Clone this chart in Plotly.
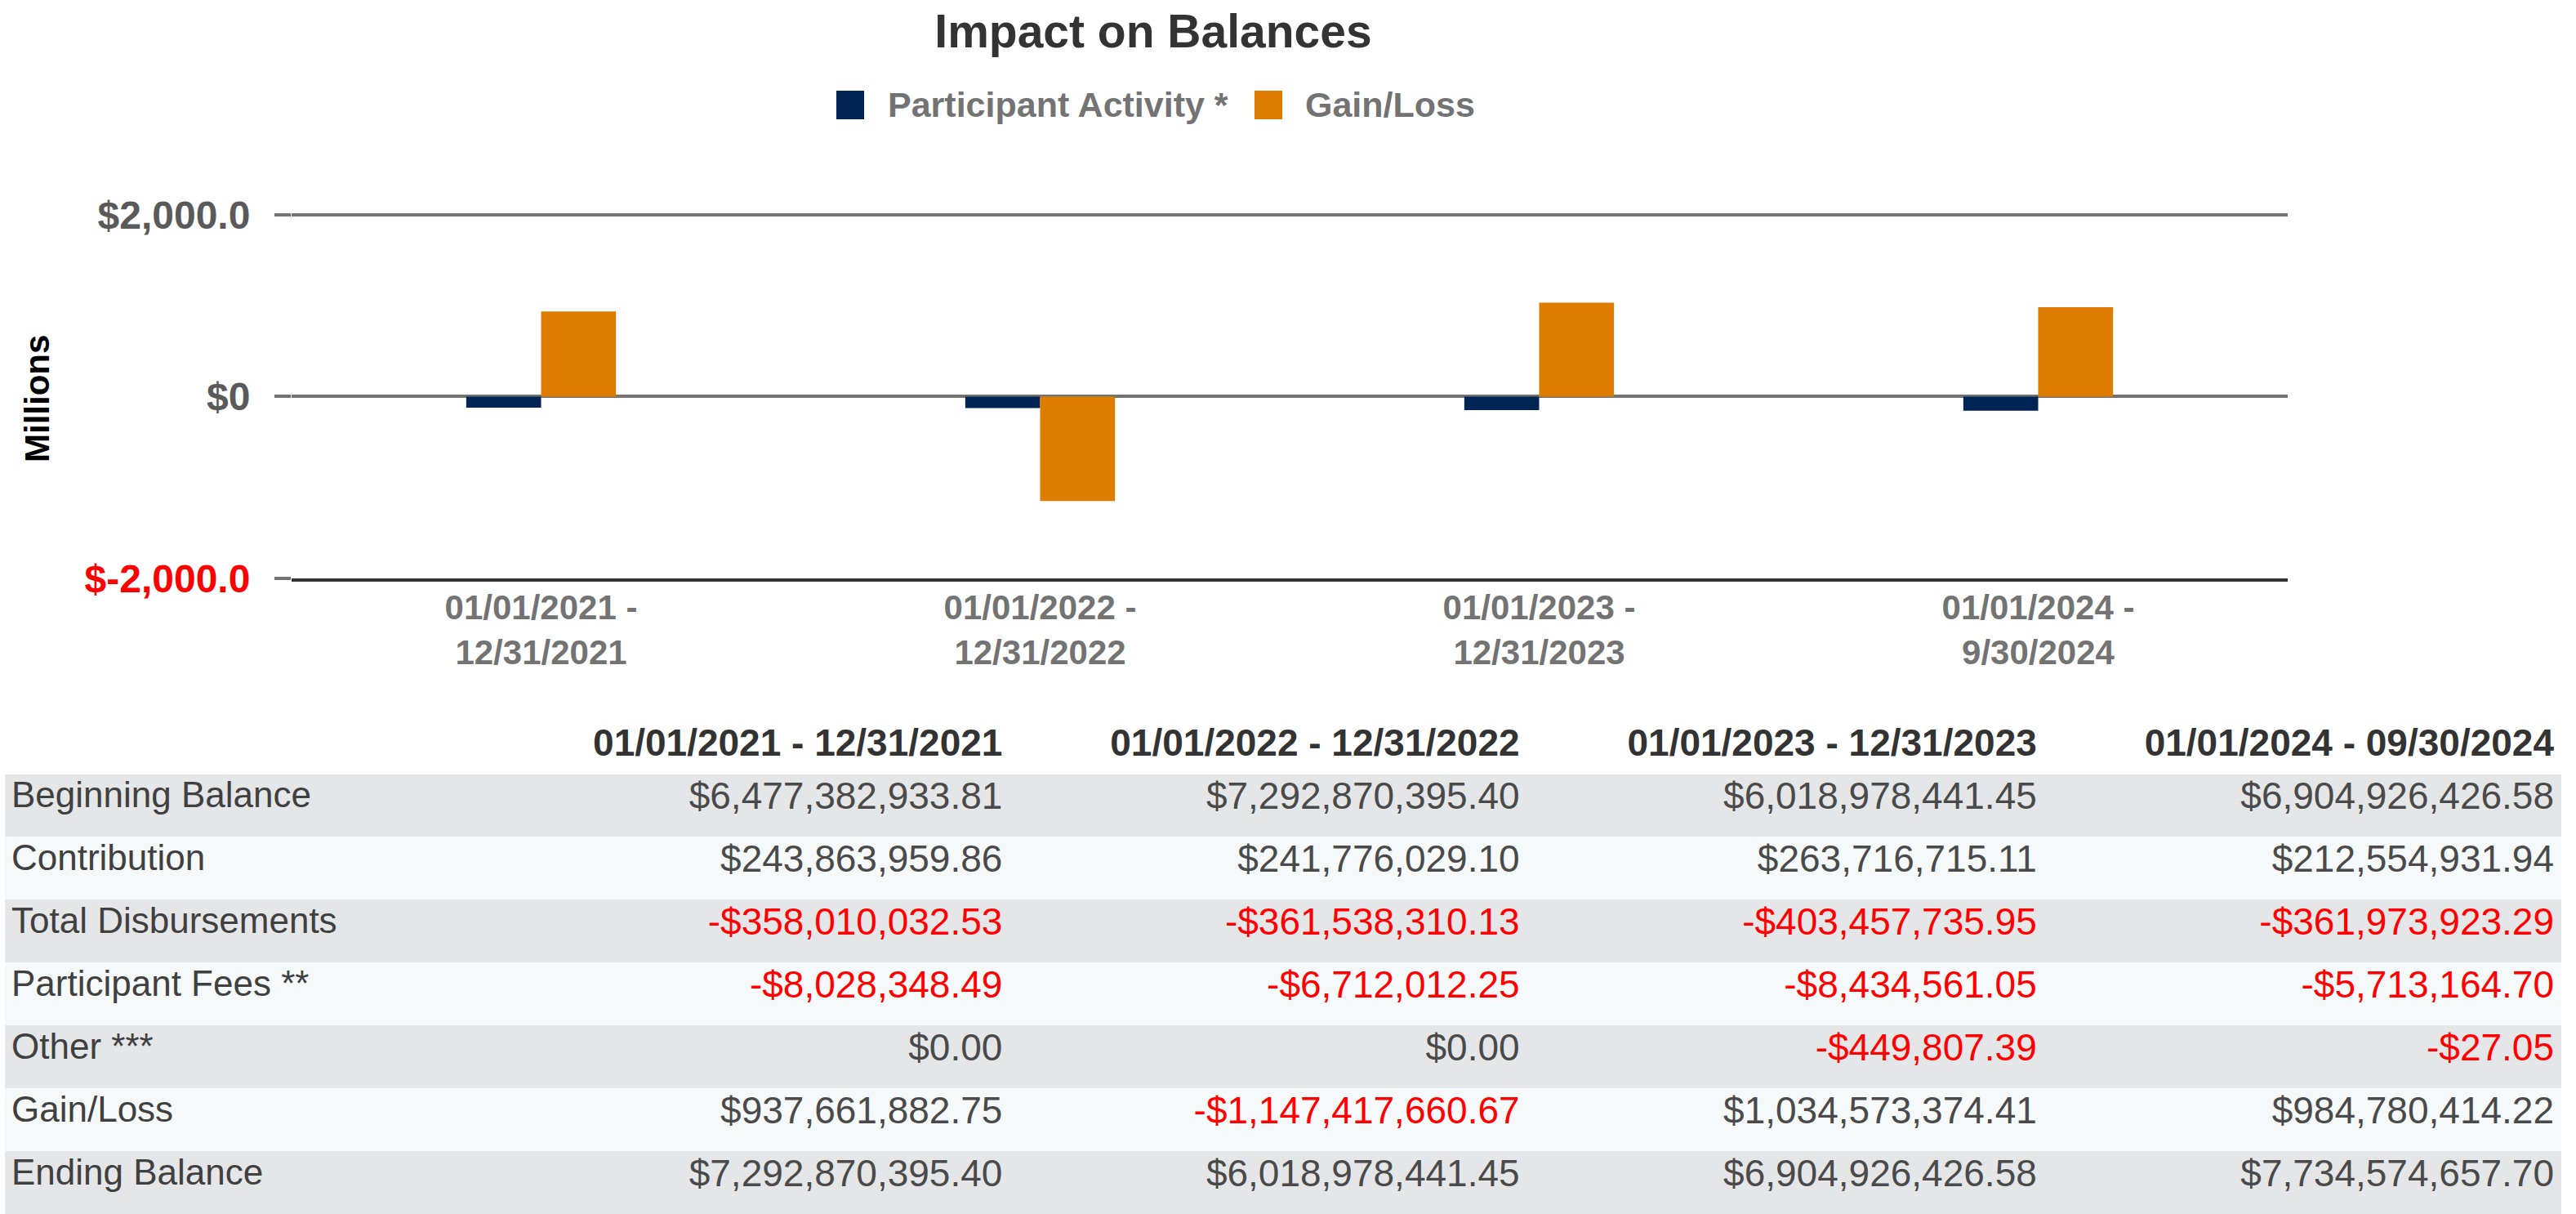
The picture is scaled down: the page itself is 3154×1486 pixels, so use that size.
import plotly.graph_objects as go

# ---------------- data ----------------
chart_periods = ["01/01/2021 -<br>12/31/2021", "01/01/2022 -<br>12/31/2022",
                 "01/01/2023 -<br>12/31/2023", "01/01/2024 -<br>9/30/2024"]
series_names = ["Participant Activity *", "Gain/Loss"]
participant_activity = [-122.17, -126.47, -148.63, -155.13]   # millions
gain_loss = [937.66, -1147.42, 1034.57, 984.78]                 # millions
y_tickvals = [-2000, 0, 2000]
y_ticktext = ["<span style='color:#ff0000'>$-2,000.0</span>", "$0", "$2,000.0"]

table_periods = ["01/01/2021 - 12/31/2021", "01/01/2022 - 12/31/2022",
                 "01/01/2023 - 12/31/2023", "01/01/2024 - 09/30/2024"]
row_labels = ["Beginning Balance", "Contribution", "Total Disbursements",
              "Participant Fees **", "Other ***", "Gain/Loss", "Ending Balance"]
col_2021 = ["$6,477,382,933.81", "$243,863,959.86", "-$358,010,032.53", "-$8,028,348.49",
            "$0.00", "$937,661,882.75", "$7,292,870,395.40"]
col_2022 = ["$7,292,870,395.40", "$241,776,029.10", "-$361,538,310.13", "-$6,712,012.25",
            "$0.00", "-$1,147,417,660.67", "$6,018,978,441.45"]
col_2023 = ["$6,018,978,441.45", "$263,716,715.11", "-$403,457,735.95", "-$8,434,561.05",
            "-$449,807.39", "$1,034,573,374.41", "$6,904,926,426.58"]
col_2024 = ["$6,904,926,426.58", "$212,554,931.94", "-$361,973,923.29", "-$5,713,164.70",
            "-$27.05", "$984,780,414.22", "$7,734,574,657.70"]

# ---------------- style ----------------
W, H = 3154, 1486
FONT = "Liberation Sans, Arial, sans-serif"
NAVY = "#002554"
ORANGE = "#DE7C00"
GREY = "#737373"

def px(x):
    return x / W

def py(y):
    return 1 - y / H

fig = go.Figure()
xs = list(range(len(chart_periods)))
fig.add_trace(go.Bar(x=xs, y=participant_activity, name=series_names[0],
                     marker=dict(color=NAVY, line=dict(width=0)), showlegend=False))
fig.add_trace(go.Bar(x=xs, y=gain_loss, name=series_names[1],
                     marker=dict(color=ORANGE, line=dict(width=0)), showlegend=False))

# table
value_cols = [col_2021, col_2022, col_2023, col_2024]
n = len(row_labels)
row_fill = ["#e5e6e8" if i % 2 == 0 else "#f6f9fa" for i in range(n)]
label_colors = ["#404040"] * n
value_colors = [["#ff0000" if v.startswith("-") else "#4a4a4a" for v in col] for col in value_cols]
fig.add_trace(go.Table(
    domain=dict(x=[px(6), px(3135)], y=[0, py(882)]),
    columnwidth=[596, 633, 633, 633, 633],
    header=dict(values=[""] + table_periods,
                align=["left"] + ["right"] * 4,
                fill_color="white",
                line=dict(color="white", width=1),
                font=dict(family=FONT, size=46, color="#333333", weight="bold"),
                height=65),
    cells=dict(values=[row_labels] + value_cols,
               align=["left"] + ["right"] * 4,
               fill_color=[row_fill] * 5,
               line=dict(color=[row_fill] * 5, width=1),
               font=dict(family=FONT, size=[44, 46, 46, 46, 46],
                         color=[label_colors] + value_colors),
               height=77),
))

# manual legend
legend_items = [(series_names[0], NAVY, 1024, 1085), (series_names[1], ORANGE, 1536, 1596)]
for name, col, sx, tx in legend_items:
    fig.add_shape(type="rect", xref="paper", yref="paper",
                  x0=px(sx), x1=px(sx + 34), y0=py(146), y1=py(111),
                  fillcolor=col, line=dict(width=0))
    fig.add_annotation(xref="paper", yref="paper", x=px(tx), y=py(128),
                       xanchor="left", yanchor="middle", showarrow=False, text=name,
                       font=dict(family=FONT, size=43, color=GREY, weight="bold"))

# y axis title
fig.add_annotation(xref="paper", yref="paper", x=px(46), y=py(488), textangle=-90,
                   xanchor="center", yanchor="middle", showarrow=False, text="Millions",
                   font=dict(family=FONT, size=42, color="#000000", weight="bold"))

# small headroom above the top gridline so Plotly keeps drawing it
Y_TOP = 2020
top_px = 263 - (Y_TOP - 2000) * (708 - 263) / 4000

fig.update_layout(
    width=W, height=H,
    margin=dict(l=0, r=0, t=0, b=0, autoexpand=False),
    paper_bgcolor="white", plot_bgcolor="white",
    barmode="group", bargap=0.7, bargroupgap=0,
    title=dict(text="Impact on Balances", x=px(1412), xanchor="center",
               y=py(38), yanchor="middle", yref="container",
               font=dict(family=FONT, size=57, color="#333333", weight="bold")),
    xaxis=dict(domain=[px(357), px(2801)], range=[-0.5, 3.5], automargin=False,
               tickvals=xs, ticktext=chart_periods, ticks="",
               ticklabelstandoff=-4,
               tickfont=dict(family=FONT, size=42, color=GREY, weight="bold"),
               showgrid=False, zeroline=False,
               showline=True, linecolor="#333333", linewidth=4),
    yaxis=dict(domain=[py(708), py(top_px)], range=[-2000, Y_TOP], automargin=False,
               tickvals=y_tickvals, ticktext=y_ticktext,
               ticks="outside", ticklen=20, tickwidth=4, tickcolor=GREY,
               ticklabelstandoff=20,
               tickfont=dict(family=FONT, size=48, color="#5a5a5a", weight="bold"),
               showgrid=True, gridcolor=GREY, gridwidth=4, zeroline=False,
               showline=False),
    showlegend=False,
)

fig.write_html("out.html", config={"displayModeBar": False},
               post_script="document.body.style.margin='0px';")
